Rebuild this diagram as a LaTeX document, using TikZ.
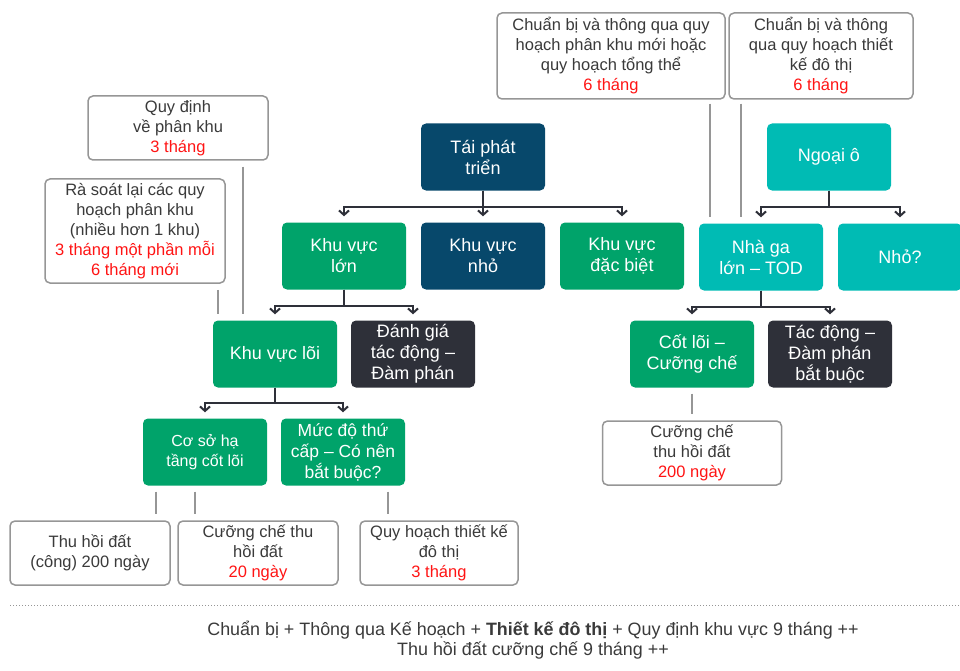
\documentclass[tikz,border=0pt]{standalone}
\usepackage{fontspec}
\setmainfont{Liberation Sans}
\usetikzlibrary{arrows.meta}
\definecolor{DarkBlue}{RGB}{7,72,107}
\definecolor{KhuGreen}{RGB}{0,163,106}
\definecolor{Teal}{RGB}{0,187,180}
\definecolor{Charcoal}{RGB}{46,48,57}
\definecolor{BoxGray}{RGB}{150,150,150}
\definecolor{TextGray}{RGB}{58,58,58}
\definecolor{TimeRed}{RGB}{255,20,20}

\tikzset{
  block/.style={rounded corners=5pt, text=white, align=center, minimum width=124pt, minimum height=67pt, inner sep=2pt, font=\fontsize{18}{21}\selectfont},
  bluebox/.style={block, fill=DarkBlue},
  greenbox/.style={block, fill=KhuGreen},
  tealbox/.style={block, fill=Teal},
  darkbox/.style={block, fill=Charcoal},
  notebox/.style={draw=BoxGray, line width=1.5pt, rounded corners=5pt, fill=white, text=TextGray, align=center, minimum height=64pt, inner sep=2pt, font=\fontsize{16.5}{20}\selectfont},
  arr/.style={draw=Charcoal, line width=2pt, -{Straight Barb[length=4.5pt,width=10pt]}, shorten >=6pt},
  lien/.style={draw=BoxGray, line width=1.6pt, shorten <=6pt, shorten >=6pt}
}
\newcommand{\thoigian}[1]{\textcolor{TimeRed}{#1}}

\begin{document}
\begin{tikzpicture}[x=1pt,y=1pt,yscale=-1,xscale=1]
		\useasboundingbox (0,0) rectangle (960,671);

		% Top level boxes
		\node[bluebox] (tpt) at (483,157) {Tái phát\\triển};
		\node[tealbox] (ngoaio) at (829,157) {Ngoại ô};

		% Second level
		\node[greenbox] (kvlon) at (344,256) {Khu vực\\lớn};
		\node[bluebox] (kvnho) at (483,256) {Khu vực\\nhỏ};
		\node[greenbox] (kvdb) at (622,256) {Khu vực\\đặc biệt};
		\node[tealbox] (nhaga) at (761,257) {Nhà ga\\lớn -- TOD};
		\node[tealbox] (nho) at (900,257) {Nhỏ?};

		% Third level
		\node[greenbox] (kvloi) at (275,354) {Khu vực lõi};
		\node[darkbox] (dgtd) at (413,354) {Đánh giá\\tác động --\\Đàm phán};
		\node[greenbox] (cotloi) at (692,354) {Cốt lõi --\\Cưỡng chế};
		\node[darkbox] (tdbb) at (830,354) {Tác động --\\Đàm phán\\bắt buộc};

		% Fourth level
		\node[greenbox, font=\fontsize{16}{20}\selectfont] (csht) at (205,452) {Cơ sở hạ\\tầng cốt lõi};
		\node[greenbox, font=\fontsize{17.5}{21}\selectfont] (mdtc) at (343,452) {Mức độ thứ\\cấp -- Có nên\\bắt buộc?};

		% White note boxes
		\node[notebox, minimum width=180pt] (qdpk) at (178,128) {Quy định\\về phân khu\\\thoigian{3 tháng}};
		\node[notebox, minimum width=180pt, minimum height=104pt] (rasoat) at (135,231) {Rà soát lại các quy\\hoạch phân khu\\(nhiều hơn 1 khu)\\\thoigian{3 tháng một phần mỗi}\\\thoigian{6 tháng mới}};
		\node[notebox, minimum width=228pt, minimum height=86pt] (cbpk) at (611,56) {Chuẩn bị và thông qua quy\\hoạch phân khu mới hoặc\\quy hoạch tổng thể\\\thoigian{6 tháng}};
		\node[notebox, minimum width=184pt, minimum height=86pt] (cbtk) at (821,56) {Chuẩn bị và thông\\qua quy hoạch thiết\\kế đô thị\\\thoigian{6 tháng}};
		\node[notebox, minimum width=179pt] (cchd) at (692,453) {Cưỡng chế\\thu hồi đất\\\thoigian{200 ngày}};
		\node[notebox, minimum width=160pt] (thd) at (90,553) {Thu hồi đất\\(công) 200 ngày};
		\node[notebox, minimum width=160pt] (cchtd) at (258,553) {Cưỡng chế thu\\hồi đất\\\thoigian{20 ngày}};
		\node[notebox, minimum width=158pt] (qhtk) at (439,553) {Quy hoạch thiết kế\\đô thị\\\thoigian{3 tháng}};

		% Tree arrows
		\draw[arr] (tpt.south) -- ++(0,16) -| (kvlon.north);
		\draw[arr] (tpt.south) -- (kvnho.north);
		\draw[arr] (tpt.south) -- ++(0,16) -| (kvdb.north);
		\draw[arr] (ngoaio.south) -- ++(0,16) -| (nhaga.north);
		\draw[arr] (ngoaio.south) -- ++(0,16) -| (nho.north);
		\draw[arr] (kvlon.south) -- ++(0,16) -| (kvloi.north);
		\draw[arr] (kvlon.south) -- ++(0,16) -| (dgtd.north);
		\draw[arr] (nhaga.south) -- ++(0,16) -| (cotloi.north);
		\draw[arr] (nhaga.south) -- ++(0,16) -| (tdbb.north);
		\draw[arr] (kvloi.south) -- ++(0,15) -| (csht.north);
		\draw[arr] (kvloi.south) -- ++(0,15) -| (mdtc.north);

		% Gray links from the notes
		\coordinate (xa) at (243,0);
		\coordinate (xb) at (218,0);
		\coordinate (xc) at (710,0);
		\coordinate (xd) at (741,0);
		\coordinate (xe) at (692,0);
		\coordinate (xf) at (156,0);
		\coordinate (xg) at (195,0);
		\coordinate (xh) at (388,0);
		\draw[lien] (qdpk.south -| xa) -- (kvloi.north -| xa);
		\draw[lien] (rasoat.south -| xb) -- (kvloi.north -| xb);
		\draw[lien, shorten <=4pt] (cbpk.south -| xc) -- (nhaga.north -| xc);
		\draw[lien, shorten <=4pt] (cbtk.south -| xd) -- (nhaga.north -| xd);
		\draw[lien] (cotloi.south -| xe) -- (cchd.north -| xe);
		\draw[lien] (csht.south -| xf) -- (thd.north -| xf);
		\draw[lien] (csht.south -| xg) -- (cchtd.north -| xg);
		\draw[lien] (mdtc.south -| xh) -- (qhtk.north -| xh);

		% Dotted separator and summary
		\draw[BoxGray, line width=1pt, dotted] (10,605) -- (960,605);
		\node[text=TextGray, align=center, font=\fontsize{17.9}{20}\selectfont] (tongket) at (533,640) {Chuẩn bị + Thông qua Kế hoạch + \textbf{Thiết kế đô thị} + Quy định khu vực 9 tháng ++\\Thu hồi đất cưỡng chế 9 tháng ++};
	\end{tikzpicture}
\end{document}
